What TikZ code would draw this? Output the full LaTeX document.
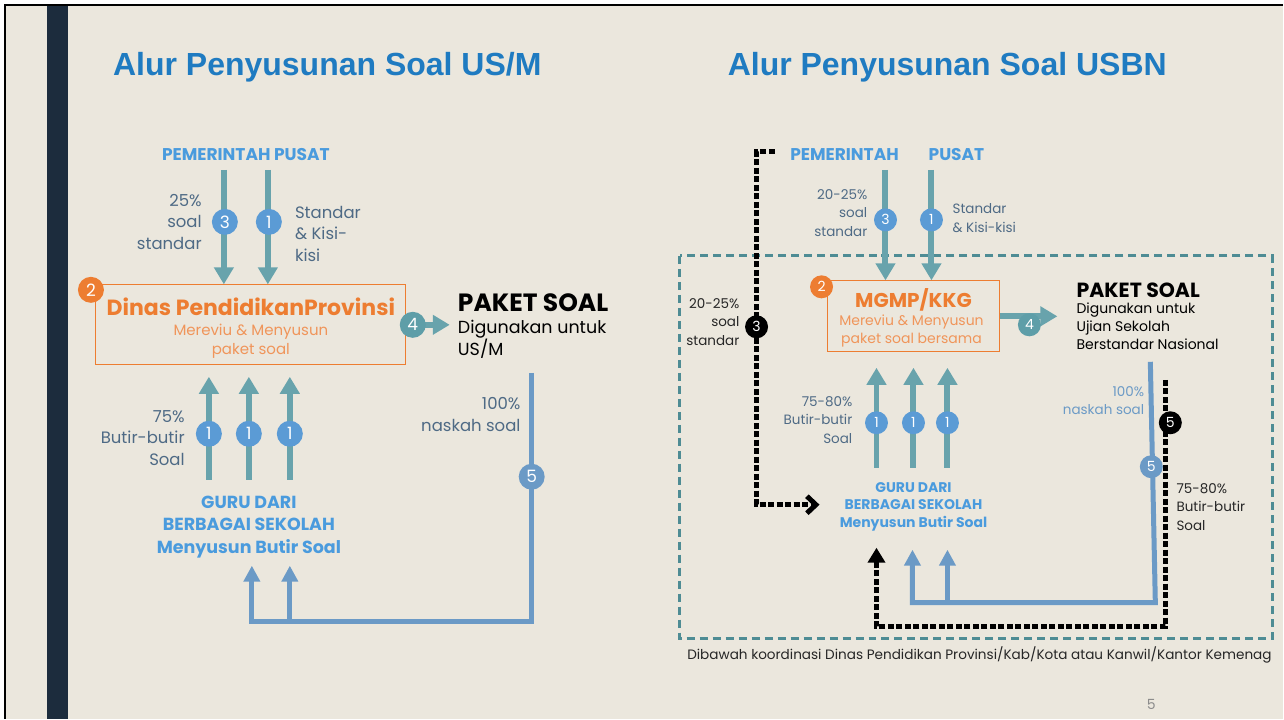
\documentclass[tikz,border=0pt]{standalone}
\usepackage{fontspec}
\setmainfont{Poppins}
\newfontfamily\titlefont{Liberation Sans}
\usetikzlibrary{arrows.meta,positioning}

\definecolor{slidebg}{HTML}{EBE7DD}
\definecolor{navy}{HTML}{1C2C3D}
\definecolor{titleblue}{HTML}{1F7BC1}
\definecolor{headblue}{HTML}{4A9BDD}
\definecolor{tealc}{HTML}{68A3AC}
\definecolor{numblue}{HTML}{5B9BD5}
\definecolor{orangec}{HTML}{ED7D31}
\definecolor{orangelt}{HTML}{F0955A}
\definecolor{slate}{HTML}{4E6A85}
\definecolor{steel}{HTML}{6B9AC6}
\definecolor{tealdash}{HTML}{4E8C94}
\definecolor{numteal}{HTML}{5E9EA8}

\begin{document}
\begin{tikzpicture}[x=1pt,y=-1pt,
	every node/.style={inner sep=0pt},
	num/.style={circle,fill=#1,text=white,minimum size=26pt,font=\fontsize{17}{17}\selectfont},
	smallnum/.style={num=#1,minimum size=23pt,font=\fontsize{14}{14}\selectfont},
	tarrow/.style={draw=tealc,line width=6pt,-{Triangle[width=19pt,length=17pt]}},
	barrow/.style={draw=steel,line width=5pt,-{Triangle[width=16pt,length=16pt]}},
	darrow/.style={draw=black,line width=5pt,dash pattern=on 6pt off 2.5pt},
	head/.style={text=headblue,font=\fontsize{17}{17}\bfseries},
	lbl/.style={text=slate,font=\fontsize{16.5}{21.5}\selectfont},
	slbl/.style={text=slate,font=\fontsize{13.5}{18.5}\selectfont}]

	% slide
	\fill[white] (0,0) rectangle (1284,719);
	\fill[slidebg] (5,5) rectangle (1284,719);
	\draw[black,line width=1.5pt] (5,719) -- (5,5) -- (1284,5);
	\fill[navy] (47,6) rectangle (68,719);
	\useasboundingbox (0,0) rectangle (1284,719);

	\node[anchor=west,text=titleblue,font=\titlefont\fontsize{32}{32}\bfseries] (titleL) at (113,67) {Alur Penyusunan Soal US/M};
	\node[anchor=west,text=titleblue,font=\titlefont\fontsize{32}{32}\bfseries] (titleR) at (728,67) {Alur Penyusunan Soal USBN};

	% left: US/M
	\node[head] (pusatL) at (246,155) {PEMERINTAH PUSAT};
	\node[draw=orangec,line width=1pt,minimum width=310pt,minimum height=80pt] (dinas) at (251,325) {};
	\node[text=orangec,font=\fontsize{22}{22}\bfseries] (dinasT) at (251,307) {Dinas PendidikanProvinsi};
	\node[text=orangelt,font=\fontsize{15}{19}\selectfont,align=center] (dinasS) at (251,341) {Mereviu \& Menyusun\\paket soal};
	\node[num=orangec] (nL2) at (91,290) {2};

	\coordinate (aL3) at (224,170);
	\coordinate (aL1) at (268,170);
	\draw[tarrow] (aL3) -- (aL3 |- dinas.north);
	\draw[tarrow] (aL1) -- (aL1 |- dinas.north);
	\node[num=numblue] (nL3) at (225,222) {3};
	\node[num=numblue] (nL1) at (269,222) {1};
	\node[lbl,anchor=east,align=right] (stdL) at (202,222) {25\%\\soal\\standar};
	\node[lbl,anchor=west,align=left] (kisiL) at (295,234) {Standar\\\& Kisi-\\kisi};

	\node[anchor=west,font=\fontsize{25}{25}\bfseries] (paketL) at (458,303) {PAKET SOAL};
	\node[anchor=north west,font=\fontsize{17.5}{21}\selectfont,align=left] (paketLS) at (458,320) {Digunakan untuk\\US/M};
	\draw[tarrow] (dinas.east) -- ([xshift=-8pt]dinas.east -| paketL.west);
	\node[num=numteal] (nL4) at (413,325) {4};

	\node[head,font=\fontsize{17.5}{22.5}\bfseries,align=center] (guruL) at (249,527) {GURU DARI\\BERBAGAI SEKOLAH\\Menyusun Butir Soal};
	\foreach \x in {209,249,290} {
		\draw[tarrow] (\x,480) -- (\x,377);
		\node[num=numblue] (nG\x) at (\x,434) {1};
	}
	\node[lbl,anchor=east,align=right] (butirL) at (185,438) {75\%\\Butir-butir\\Soal};

	\coordinate (kirimL) at (532,373);
	\coordinate (sudutL) at (532,622);
	\draw[barrow] (kirimL) -- (sudutL) -- (252,622) -- (252,566);
	\draw[barrow] (290,622) -- (290,566);
	\node[num=steel] (nL5) at (532,477) {5};
	\node[lbl,anchor=east,align=right] (naskahL) at (521,415) {100\%\\naskah soal};

	% right: USBN
	\node[head] (pemR) at (845,155) {PEMERINTAH};
	\node[head] (pusR) at (957,155) {PUSAT};
	\draw[tealdash,line width=3pt,dash pattern=on 8pt off 5pt] (680,256) rectangle (1273,639);

	\node[draw=orangec,line width=1pt,minimum width=172pt,minimum height=71pt] (mgmp) at (914,316.5) {};
	\node[text=orangec,font=\fontsize{20}{20}\bfseries] (mgmpT) at (914,300) {MGMP/KKG};
	\node[text=orangelt,font=\fontsize{14}{18}\selectfont,align=center] (mgmpS) at (912,331) {Mereviu \& Menyusun\\paket soal bersama};
	\node[smallnum=orangec] (nR2) at (822,287) {2};

	\coordinate (aR3) at (886,170);
	\coordinate (aR1) at (932,170);
	\draw[tarrow] (aR3) -- (aR3 |- mgmp.north);
	\draw[tarrow] (aR1) -- (aR1 |- mgmp.north);
	\node[smallnum=numblue] (nR3) at (886,220) {3};
	\node[smallnum=numblue] (nR1) at (932,220) {1};
	\node[slbl,anchor=east,align=right] (stdR) at (868,213) {20-25\%\\soal\\standar};
	\node[slbl,anchor=west,align=left] (kisiR) at (953,218) {Standar\\\& Kisi-kisi};

	\node[anchor=west,font=\fontsize{20.5}{20.5}\bfseries] (paketR) at (1077,290) {PAKET SOAL};
	\node[anchor=north west,font=\fontsize{14}{18}\selectfont,align=left] (paketRS) at (1077,303) {Digunakan untuk\\Ujian Sekolah\\Berstandar Nasional};
	\draw[tarrow] (mgmp.east) -- ([xshift=-19pt]mgmp.east -| paketR.west);
	\node[smallnum=numteal] (nR4) at (1030,325) {4};

	\node[head,font=\fontsize{14}{17.5}\bfseries,align=center] (guruR) at (914,507) {GURU DARI\\BERBAGAI SEKOLAH\\Menyusun Butir Soal};
	\foreach \x in {877,914,948} {
		\draw[tarrow] (\x,468) -- (\x,368);
		\node[smallnum=numblue] (nH\x) at (\x,423) {1};
	}
	\node[slbl,anchor=east,align=right] (butirR) at (853,420) {75-80\%\\Butir-butir\\Soal};

	% jalur MGMP ke sekolah
	\coordinate (kirimR) at (1151,362);
	\draw[barrow] (kirimR) -- (1156,603) -- (913,603) -- (913,550);
	\draw[barrow] (948,603) -- (948,550);
	\node[smallnum=steel] (nR5) at (1152,467) {5};
	\node[slbl,text=steel,anchor=east,align=right] (naskahR) at (1145,401) {100\%\\naskah soal};

	% jalur pusat langsung
	\coordinate (pusatK) at (775,152);
	\coordinate (masukK) at (820,505);
	\draw[darrow,-{Straight Barb[length=9pt,width=17pt]}] (pusatK) -- (757,152) -- (757,505) -- (masukK);
	\node[smallnum=black] (nK3) at (757,327) {3};
	\node[slbl,text=black!85,anchor=east,align=right] (stdK) at (740,322) {20-25\%\\soal\\standar};

	\draw[darrow,-{Triangle[width=17pt,length=15pt]}] (1166,380) -- (1166,627) -- (877,627) -- (877,548);
	\node[smallnum=black] (nK5) at (1171,423) {5};
	\node[slbl,text=black!85,anchor=west,align=left] (butirK) at (1177,507) {75-80\%\\Butir-butir\\Soal};

	\node[text=black!85,font=\fontsize{13.6}{13.6}\selectfont] (koord) at (980,655) {Dibawah koordinasi Dinas Pendidikan Provinsi/Kab/Kota atau Kanwil/Kantor Kemenag};
	\node[text=black!45,font=\fontsize{14}{14}\selectfont] (hal) at (1152,705) {5};
\end{tikzpicture}
\end{document}
